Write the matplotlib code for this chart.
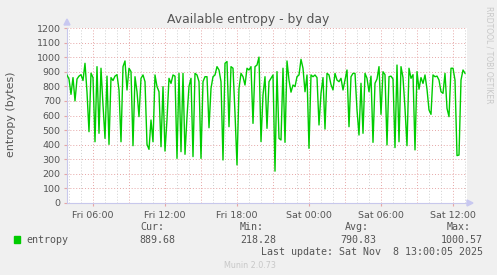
import matplotlib
matplotlib.use("Agg")
import matplotlib.pyplot as plt
import numpy as np
from matplotlib.patches import Rectangle, Polygon

# entropy samples, one every 10 min, Fri 03:50 -> Sat 13:00
start_hour = 3 + 50 / 60.0
step_hours = 10 / 60.0
entropy = [
    877, 850, 745, 860, 700, 850, 870, 880, 840, 958,
    760, 489, 890, 860, 420, 935, 478, 924, 672, 443,
    870, 402, 860, 840, 870, 880, 775, 420, 935, 974,
    775, 924, 901, 393, 866, 763, 592, 855, 878, 832,
    402, 368, 569, 420, 878, 798, 763, 386, 798, 356,
    573, 855, 820, 878, 870, 306, 889, 352, 889, 334,
    592, 800, 855, 318, 889, 878, 832, 306, 832, 866,
    866, 516, 786, 866, 878, 935, 912, 832, 295, 958,
    970, 523, 935, 924, 615, 261, 786, 889, 866, 809,
    924, 912, 935, 546, 935, 946, 1000.57, 421, 741, 866,
    512, 832, 855, 878, 218.28, 901, 443, 432, 924, 416,
    974, 843, 760, 809, 798, 866, 878, 985, 924, 763,
    878, 375, 878, 866, 878, 860, 535, 752, 860, 507,
    889, 878, 812, 775, 889, 843, 832, 855, 775, 843,
    912, 523, 866, 889, 889, 638, 466, 821, 478, 889,
    855, 763, 870, 416, 821, 850, 935, 608, 900, 880,
    398, 866, 870, 850, 380, 946, 420, 935, 860, 649,
    393, 924, 855, 880, 364, 901, 780, 860, 820, 878,
    780, 638, 608, 878, 866, 870, 843, 763, 752, 889,
    649, 592, 924, 924, 843, 325, 329, 843, 912, 889.68,
]
hours = start_hour + step_hours * np.arange(len(entropy))

tick_hours = [6, 12, 18, 24, 30, 36]
tick_labels = ["Fri 06:00", "Fri 12:00", "Fri 18:00",
               "Sat 00:00", "Sat 06:00", "Sat 12:00"]
y_ticks = list(range(0, 1300, 100))

legend_cur = "889.68"
legend_min = "218.28"
legend_avg = "790.83"
legend_max = "1000.57"

W, H = 497, 275
fig = plt.figure(figsize=(W / 100, H / 100), dpi=100)
fig.patch.set_facecolor("#f0f0f0")

# plot box in pixels: x 67..467, y 28..203
ax = fig.add_axes([67 / W, (H - 203) / H, 400 / W, 175 / H])
ax.set_facecolor("white")
x_end = 6 + (467 - 93) / 12.0
ax.set_xlim(start_hour, x_end)
ax.set_ylim(0, 1200)

for s in ["top", "right"]:
    ax.spines[s].set_visible(False)
for s in ["left", "bottom"]:
    ax.spines[s].set_color("#c8c8ec")
    ax.spines[s].set_linewidth(0.8)

dot = (0, (1, 2))
# minor vertical grid every hour, major every 3 hours
for h in range(4, 38):
    if h % 3 == 0:
        ax.axvline(h, color="#e6a6a6", lw=0.7, ls=dot, zorder=1)
    else:
        ax.axvline(h, color="#cfcfcf", lw=0.7, ls=dot, zorder=1)
for v in y_ticks[1:]:
    ax.axhline(v, color="#e6a6a6", lw=0.7, ls=dot, zorder=1)

ax.plot(hours, entropy, color="#00cc00", lw=1.0, zorder=3)

ax.set_xticks(tick_hours)
ax.set_xticklabels(tick_labels)
ax.set_yticks(y_ticks)
ax.tick_params(axis="both", labelsize=6.8, labelcolor="#555555",
               color="#e6a6a6", length=2.5, width=0.8, pad=2)
ax.tick_params(axis="x", pad=3)

# axis arrows
fig.patches.append(Polygon([[64 / W, 1 - 25 / H], [70 / W, 1 - 25 / H],
                            [67 / W, 1 - 19 / H]], closed=True,
                           transform=fig.transFigure, color="#c8c8f0"))
fig.patches.append(Polygon([[467 / W, 1 - 200 / H], [467 / W, 1 - 206 / H],
                            [473 / W, 1 - 203 / H]], closed=True,
                           transform=fig.transFigure, color="#c8c8f0"))

def px(x, y):
    return x / W, 1 - y / H

fig.text(*px(248, 19), "Available entropy - by day", ha="center", va="center",
         fontsize=8.9, color="#555555")
fig.text(*px(11, 114), "entropy (bytes)", ha="center", va="center",
         rotation=90, fontsize=7.9, color="#555555")
fig.text(*px(489, 55), "RRDTOOL / TOBI OETIKER", ha="center", va="center",
         rotation=270, fontsize=5.5, color="#c8c8c8")

mono = dict(family="DejaVu Sans Mono", fontsize=7.2, color="#555555",
            va="center")
fig.patches.append(Rectangle(px(14, 243), 6 / W, 7 / H,
                             transform=fig.transFigure, color="#00cc00"))
fig.text(*px(26, 240), "entropy", ha="left", **mono)
fig.text(*px(164, 227), "Cur:", ha="right", **mono)
fig.text(*px(175, 240), legend_cur, ha="right", **mono)
fig.text(*px(264, 227), "Min:", ha="right", **mono)
fig.text(*px(276, 240), legend_min, ha="right", **mono)
fig.text(*px(369, 227), "Avg:", ha="right", **mono)
fig.text(*px(376, 240), legend_avg, ha="right", **mono)
fig.text(*px(471, 227), "Max:", ha="right", **mono)
fig.text(*px(483, 240), legend_max, ha="right", **mono)
fig.text(*px(483, 252), "Last update: Sat Nov  8 13:00:05 2025", ha="right", **mono)
fig.text(*px(250, 265), "Munin 2.0.73", ha="center", va="center",
         fontsize=5.8, color="#c8c8c8")

fig.savefig("out.png", dpi=100, facecolor=fig.get_facecolor())
